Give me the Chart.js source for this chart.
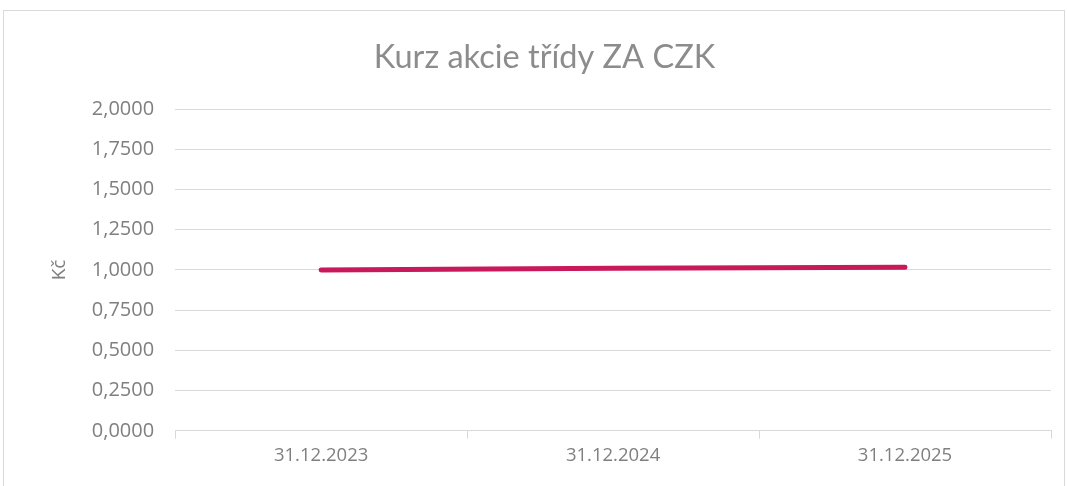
<!DOCTYPE html>
<html><head><meta charset="utf-8">
<script src="https://cdn.jsdelivr.net/npm/chart.js@4.4.1/dist/chart.umd.min.js"></script>
<style>
html,body{margin:0;padding:0;background:#fff;}
#frame{position:absolute;left:3px;top:10px;width:1062px;height:490px;border:1px solid #d9d9d9;box-sizing:border-box;}
#wrap{position:absolute;left:0;top:0;width:1067px;height:486px;}
</style></head>
<body>
<div id="frame"></div>
<div id="wrap"><canvas id="c"></canvas></div>
<script>
const categories = ['31.12.2023', '31.12.2024', '31.12.2025'];
const values = [1.0000, 1.0100, 1.0160];
const seriesName = 'Kurz akcie třídy ZA CZK';
const titleText = 'Kurz akcie třídy ZA CZK';
const yTitle = 'Kč';

const grey = '#7f7f7f';
new Chart(document.getElementById('c'), {
  type: 'line',
  data: {
    labels: categories,
    datasets: [{
      label: seriesName,
      data: values,
      borderColor: '#c8195a',
      backgroundColor: '#c8195a',
      borderWidth: 5,
      borderCapStyle: 'round',
      pointRadius: 0,
      tension: 0
    }]
  },
  options: {
    responsive: true,
    maintainAspectRatio: false,
    animation: false,
    layout: { padding: { left: 38, right: 16, top: 38, bottom: 13 } },
    plugins: {
      legend: { display: false },
      tooltip: { enabled: false },
      title: {
        display: true, text: titleText, color: '#8c8c8c',
        font: { family: 'Lato', size: 32.5, weight: 'normal' },
        padding: { top: 0, bottom: 32 }
      }
    },
    scales: {
      x: {
        offset: true,
        grid: { offset: true, drawOnChartArea: false, drawTicks: true, tickLength: 8, color: '#d9d9d9' },
        border: { display: true, color: '#d9d9d9', width: 1 },
        ticks: { color: grey, font: { family: 'Open Sans', size: 18.5 }, padding: 6, maxRotation: 0 }
      },
      y: {
        min: 0, max: 2, 
        ticks: { stepSize: 0.25, color: grey, padding: 21,
          font: { family: 'Open Sans', size: 20 },
          callback: v => v.toFixed(4).replace('.', ',') },
        grid: { color: '#d9d9d9', drawTicks: false },
        border: { display: false },
        title: { display: true, text: yTitle, color: grey, font: { family: 'Open Sans', size: 19 }, padding: { top: 10, bottom: 0 } }
      }
    }
  }
});
</script>
</body></html>
